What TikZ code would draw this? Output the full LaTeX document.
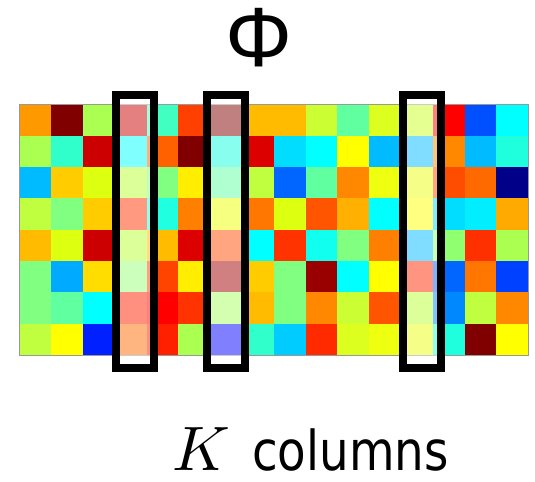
\documentclass[tikz,border=0pt]{standalone}
\usepackage{fontspec}
\newfontfamily\dejavu{DejaVu Sans}
\newfontfamily\libsans{Liberation Sans}
\tikzset{
  colbox/.style={draw=black, line width=8bp, fill=white, fill opacity=0.5},
  gridframe/.style={draw=gray!80, line width=0.8bp},
}
\begin{document}
\begin{tikzpicture}[x=1bp,y=-1bp]
\useasboundingbox (0,0) rectangle (535,482);
\def\gx{19.3}\def\gy{104.3}\def\cw{31.81}\def\ch{31.34}
\foreach \row [count=\r from 0] in {
 {FF9900,800000,AAFF50,CB0000,40FFC0,FF4000,810000,FFBB00,FFBB00,CCFF33,60FFA0,DDFF20,CBFF21,FF0000,0050FF,00FFFF},
 {AAFF50,30FFCC,CC0000,00FFFF,FF6000,800000,11FFDD,DD0000,00DDFF,00FFFF,FFFF00,00BBFF,00BBFF,FF8800,00BBFF,20FFDD},
 {00BBFF,FFCC00,DDFF10,BBFF33,80FF80,FFEE00,5FFFA1,C0FF40,0066FF,60FFA0,FF8800,EEFF10,EBFF11,FF4D00,FF6A00,000088},
 {C0FF40,80FF80,FFCC00,FF3500,20FFE0,FF8000,EFFF00,FF7700,DDFF10,FF5500,FFB000,00FFFF,FFFF00,00DDFF,00EEFF,FFAA00},
 {FFBB00,DDFF10,CC0000,BBFF33,FFBB00,DD0000,FF4D00,00FFFF,FF3300,10FFEE,80FF80,FF8000,00BBFF,90FF70,FF3000,AAFF50},
 {80FF80,00AAFF,FFDD00,99FF77,FF4400,FFEE00,A10000,FFCC00,80FF80,990000,00FFFF,FFFF00,FF2B00,0066FF,FF7700,0040FF},
 {80FF80,60FF9F,00FFFF,FF2100,FF0000,FF3300,ABFF61,FFBB00,80FF80,FF8800,CCFF33,FF5500,BBFF33,0088FF,C0FF40,FF8800},
 {C0FF40,FFFF00,0020FF,FF6B00,FF2000,AAFF50,0000FF,30FFCC,00CCFF,FF2A00,DDFF20,EEFF10,EBFF11,20FFDD,800000,FFFF00}} {
  \foreach \c [count=\k from 0] in \row {
    \definecolor{cellc}{HTML}{\c}
    \fill[cellc] ({\gx+\k*\cw},{\gy+\r*\ch}) rectangle ++({\cw+0.4},{\ch+0.4});
  }
}
\path[gridframe] (\gx,\gy) rectangle ++(509,250.7);
% column boxes
\path[colbox] (115.5,95) rectangle (153.5,367.5);
\path[colbox] (206.7,95) rectangle (244.5,367.5);
\path[colbox] (402.5,95) rectangle (440.5,367.5);
% labels
\node[inner sep=0, anchor=base] (phi) at (259.5,66.7) {\libsans\fontsize{84bp}{90bp}\selectfont Φ};
\begin{scope}[shift={(171,470)}, scale=6.3]
\node[inner sep=0, anchor=base west, transform shape] (K) at (0,0) {$K$};
\end{scope}
\begin{scope}[shift={(252,470)}, xscale=0.85]
\node[inner sep=0, anchor=base west, transform shape] (cols) at (0,0) {\dejavu\fontsize{55bp}{60bp}\selectfont columns};
\end{scope}
\end{tikzpicture}
\end{document}
